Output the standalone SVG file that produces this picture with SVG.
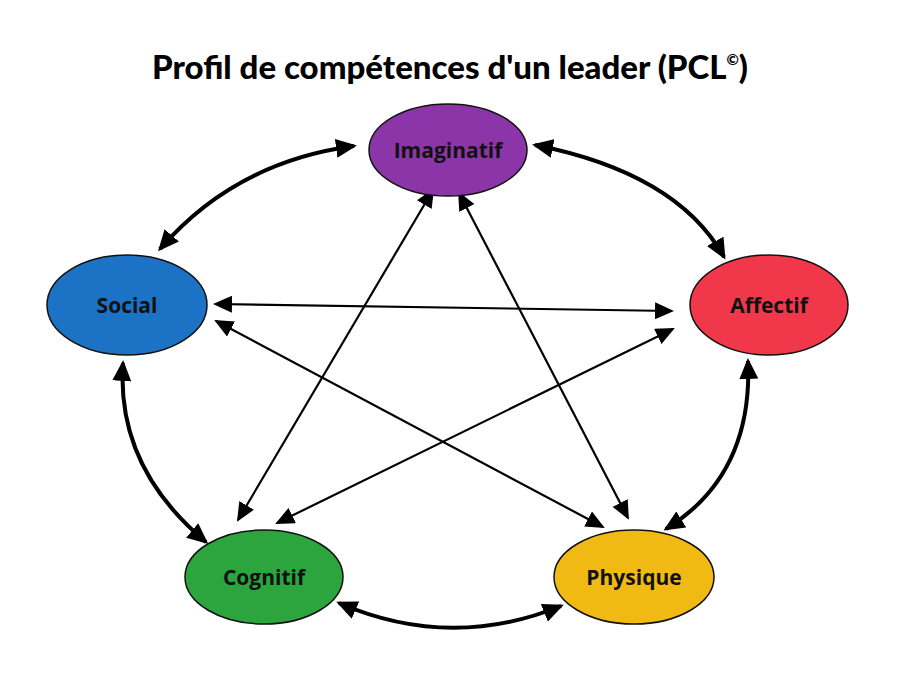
<svg xmlns="http://www.w3.org/2000/svg" width="900" height="675" viewBox="0 0 900 675">
<defs>
<style>
.node ellipse{stroke:#111;stroke-width:1.5}
.node text{font-family:"Open Sans","Liberation Sans",sans-serif;font-weight:700;font-size:21px;fill:#111;text-anchor:middle;dominant-baseline:central}
.curve{fill:none;stroke:#000;stroke-width:4;marker-start:url(#ahB);marker-end:url(#ahB)}
.line{fill:none;stroke:#000;stroke-width:2.2;marker-start:url(#ah);marker-end:url(#ah)}
.title{font-family:"Lato","Liberation Sans",sans-serif;font-weight:900;font-size:33px;fill:#000;text-anchor:middle}
</style>
<marker id="ah" markerUnits="userSpaceOnUse" viewBox="0 0 19 17" markerWidth="19" markerHeight="17" refX="17" refY="8.5" orient="auto-start-reverse">
<path d="M0,0 L19,8.5 L0,17 z" fill="#000"/>
</marker>
<marker id="ahB" markerUnits="userSpaceOnUse" viewBox="0 0 21 19" markerWidth="21" markerHeight="19" refX="18" refY="9.5" orient="auto-start-reverse">
<path d="M0,0 L21,9.5 L0,19 z" fill="#000"/>
</marker>
</defs>
<rect width="900" height="675" fill="#fff"/>
<text class="title" x="450" y="79">Profil de compétences d'un leader (PCL<tspan font-size="15" dy="-14">©</tspan><tspan dy="14">)</tspan></text>
<g id="connectors">
<path class="curve" d="M160,249 Q235,162 354,146"/>
<path class="curve" d="M535,145 Q677,173 724,257"/>
<path class="curve" d="M123,363 Q116,467 206,542"/>
<path class="curve" d="M748,361 Q753,475 666,529"/>
<path class="curve" d="M339,603 Q450,651 561,606"/>
<line class="line" x1="215" y1="304" x2="672" y2="311"/>
<line class="line" x1="216" y1="321" x2="603" y2="527"/>
<line class="line" x1="673" y1="329" x2="277" y2="523"/>
<line class="line" x1="433" y1="190" x2="238" y2="520"/>
<line class="line" x1="459" y1="193" x2="628" y2="518"/>
</g>
<g id="imaginatif" class="node"><ellipse cx="448" cy="150" rx="79" ry="46" fill="#8B35A8"/><text x="448" y="150">Imaginatif</text></g>
<g id="social" class="node"><ellipse cx="127" cy="305" rx="80" ry="50" fill="#1C72C4"/><text x="127" y="305">Social</text></g>
<g id="affectif" class="node"><ellipse cx="769" cy="305" rx="79" ry="50" fill="#F0384A"/><text x="769" y="305">Affectif</text></g>
<g id="cognitif" class="node"><ellipse cx="264" cy="577" rx="79" ry="47" fill="#2CA53E"/><text x="264" y="577">Cognitif</text></g>
<g id="physique" class="node"><ellipse cx="634" cy="577" rx="80" ry="47" fill="#F0B914"/><text x="634" y="577">Physique</text></g>
</svg>
